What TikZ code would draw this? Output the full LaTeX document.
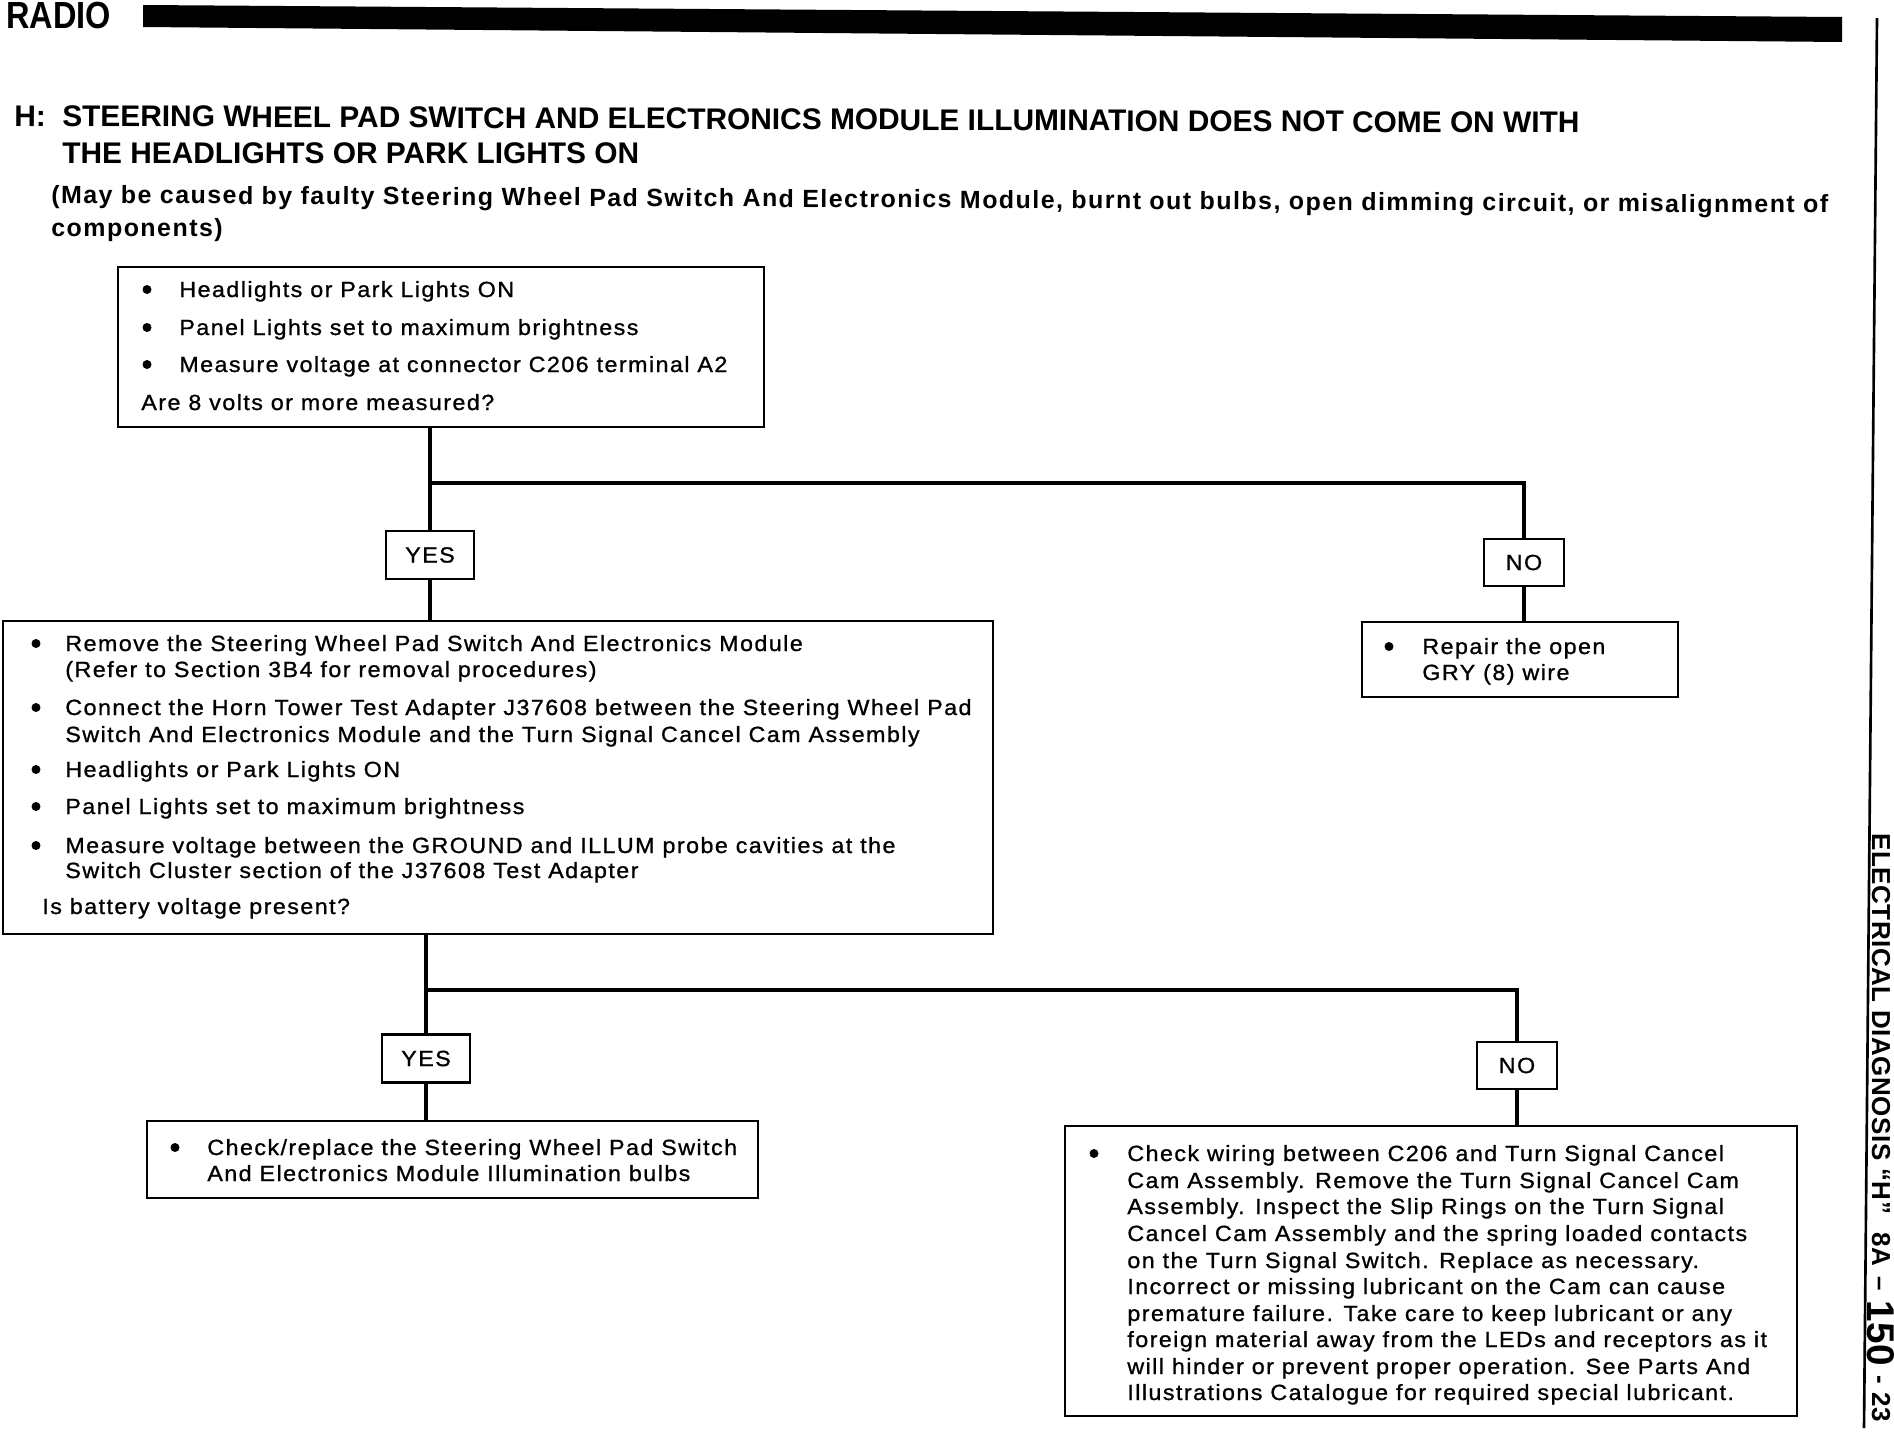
\documentclass[tikz,border=0pt]{standalone}
\usepackage{fontspec}
\setmainfont{Liberation Sans}
\newfontfamily\bodyff[LetterSpace=6.6,FakeStretch=1.06,FakeBold=1]{Liberation Sans}
\newfontfamily\parenff[LetterSpace=5.9]{Liberation Sans}
\newfontfamily\radioff[FakeStretch=0.86]{Liberation Sans}
\newfontfamily\sideff[LetterSpace=2]{Liberation Sans}
\newcommand\fBody{\bodyff\fontsize{12.5}{15}\selectfont}
\newcommand\fTitle{\bfseries\fontsize{17}{20}\selectfont}
\newcommand\fParen{\parenff\bfseries\fontsize{14.2}{17}\selectfont}
\newcommand\fRadio{\radioff\bfseries\fontsize{21.5}{24}\selectfont}
\newcommand\fSide{\sideff\bfseries\fontsize{14.8}{17}\selectfont}
\tikzset{
  box/.style={draw, line width=1.3pt, inner sep=0pt, anchor=north west},
  yes/.style={draw, line width=1.3pt, inner sep=0pt, font=\fBody, minimum width=1.76cm, minimum height=0.96cm},
  no/.style={draw, line width=1.3pt, inner sep=0pt, font=\fBody, minimum width=1.6cm, minimum height=0.93cm},
  conn/.style={line width=2.3pt},
  txt/.style={anchor=base west, inner sep=0pt, font=\fBody},
  dot/.style={circle, fill, inner sep=0pt, minimum size=0.18cm},
}
\begin{document}
\begin{tikzpicture}[x=0.02cm, y=-0.02cm]
\useasboundingbox (0,0) rectangle (1894,1440);
% header
\node[anchor=base west, inner sep=0pt, font=\fRadio] (radio) at (6,29) {RADIO};
\fill (143,5) -- (1842,17) -- (1842,42) -- (143,27) -- cycle;
\draw[line width=1.5pt] (1877,18) -- (1864,1428);
\node[rotate=-90, anchor=base west, inner sep=0pt, font=\fSide] (side) at (1872,833)
  {ELECTRICAL DIAGNOSIS “H”\hspace{0.7em}8A\hspace{0.4em}–\hspace{0.35em}\raisebox{-0.1cm}{\fontsize{22}{22}\selectfont 150}\hspace{0.35em}-\hspace{0.35em}23};
% title
\node[anchor=base west, inner sep=0pt, font=\fTitle, rotate=-0.26] (t1) at (14,126)
  {\makebox[0.96cm][l]{H:}STEERING WHEEL PAD SWITCH AND ELECTRONICS MODULE ILLUMINATION DOES NOT COME ON WITH};
\node[anchor=base west, inner sep=0pt, font=\fTitle, rotate=-0.1] (t2) at (62,163)
  {THE HEADLIGHTS OR PARK LIGHTS ON};
\node[anchor=base west, inner sep=0pt, font=\fParen, rotate=-0.32] (p1) at (51,203)
  {(May be caused by faulty Steering Wheel Pad Switch And Electronics Module, burnt out bulbs, open dimming circuit, or misalignment of};
\node[anchor=base west, inner sep=0pt, font=\fParen] (p2) at (51,236) {components)};

% box 1
\node[box, minimum width=12.92cm, minimum height=3.2cm] (b1) at (117,266) {};
\node[dot] (b1d1) at (147,289.5) {};
\node[txt] (b1l1) at (179,297) {Headlights or Park Lights ON};
\node[dot] (b1d2) at (147,327.5) {};
\node[txt] (b1l2) at (179,335) {Panel Lights set to maximum brightness};
\node[dot] (b1d3) at (147,364.5) {};
\node[txt] (b1l3) at (179,372) {Measure voltage at connector C206 terminal A2};
\node[txt] (b1q) at (141,410) {Are 8 volts or more measured?};

% yes/no 1
\coordinate (j1) at (0,483);
\node[yes] (yes1) at (430,555) {YES};
\node[no] (no1) at (1524,562.5) {NO};
\draw[conn] (yes1.north |- b1.south) -- (yes1.north);
\draw[conn] (yes1.north |- j1) -| (no1.north);

% box 2
\node[box, minimum width=6.32cm, minimum height=1.5cm] (b2) at (1361,621) {};
\draw[conn] (no1.south) -- (no1.south |- b2.north);
\node[dot] (b2d1) at (1389,646.5) {};
\node[txt] (b2l1) at (1422,654) {Repair the open};
\node[txt] (b2l2) at (1422,680) {GRY (8) wire};

% box 3
\node[box, minimum width=19.8cm, minimum height=6.26cm] (b3) at (2,620) {};
\draw[conn] (yes1.south) -- (yes1.south |- b3.north);
\node[dot] (b3d1) at (36,643.5) {};
\node[txt] (b3l1) at (65,651) {Remove the Steering Wheel Pad Switch And Electronics Module};
\node[txt] (b3l2) at (65,677) {(Refer to Section 3B4 for removal procedures)};
\node[dot] (b3d2) at (36,707.5) {};
\node[txt] (b3l3) at (65,715) {Connect the Horn Tower Test Adapter J37608 between the Steering Wheel Pad};
\node[txt] (b3l4) at (65,742) {Switch And Electronics Module and the Turn Signal Cancel Cam Assembly};
\node[dot] (b3d3) at (36,769.5) {};
\node[txt] (b3l5) at (65,777) {Headlights or Park Lights ON};
\node[dot] (b3d4) at (36,806.5) {};
\node[txt] (b3l6) at (65,814) {Panel Lights set to maximum brightness};
\node[dot] (b3d5) at (36,845.5) {};
\node[txt] (b3l7) at (65,853) {Measure voltage between the GROUND and ILLUM probe cavities at the};
\node[txt] (b3l8) at (65,878) {Switch Cluster section of the J37608 Test Adapter};
\node[txt] (b3q) at (42,914) {Is battery voltage present?};

% yes/no 2
\coordinate (j2) at (0,990);
\node[yes] (yes2) at (426,1058.5) {YES};
\node[no] (no2) at (1517,1065.5) {NO};
\draw[conn] (yes2.north |- b3.south) -- (yes2.north);
\draw[conn] (yes2.north |- j2) -| (no2.north);

% box 4
\node[box, minimum width=12.22cm, minimum height=1.54cm] (b4) at (146,1120) {};
\draw[conn] (yes2.south) -- (yes2.south |- b4.north);
\node[dot] (b4d1) at (175,1147.5) {};
\node[txt] (b4l1) at (207,1155) {Check/replace the Steering Wheel Pad Switch};
\node[txt] (b4l2) at (207,1181) {And Electronics Module Illumination bulbs};

% box 5
\node[box, minimum width=14.64cm, minimum height=5.8cm] (b5) at (1064,1125) {};
\draw[conn] (no2.south) -- (no2.south |- b5.north);
\node[dot] (b5d1) at (1094,1153.5) {};
\node[txt] (b5l1) at (1127,1161) {Check wiring between C206 and Turn Signal Cancel};
\node[txt] (b5l2) at (1127,1188) {Cam Assembly. Remove the Turn Signal Cancel Cam};
\node[txt] (b5l3) at (1127,1214) {Assembly. Inspect the Slip Rings on the Turn Signal};
\node[txt] (b5l4) at (1127,1241) {Cancel Cam Assembly and the spring loaded contacts};
\node[txt] (b5l5) at (1127,1268) {on the Turn Signal Switch. Replace as necessary.};
\node[txt] (b5l6) at (1127,1294) {Incorrect or missing lubricant on the Cam can cause};
\node[txt] (b5l7) at (1127,1321) {premature failure. Take care to keep lubricant or any};
\node[txt] (b5l8) at (1127,1347) {foreign material away from the LEDs and receptors as it};
\node[txt] (b5l9) at (1127,1374) {will hinder or prevent proper operation. See Parts And};
\node[txt] (b5l10) at (1127,1400) {Illustrations Catalogue for required special lubricant.};
\end{tikzpicture}
\end{document}
